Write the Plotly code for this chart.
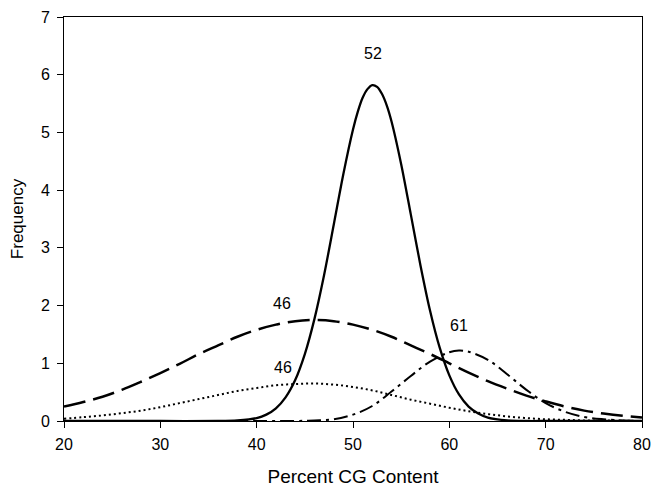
import plotly.graph_objects as go

# Solid curve (peak labelled 52)
x_52 = [20, 30, 36, 38, 40, 41, 42, 43, 44, 45, 46, 47, 48, 49, 50, 50.5, 51, 51.5, 52, 52.5, 53, 53.5, 54, 55,
        56, 57, 58, 59, 60, 61, 62, 63, 64, 66, 68, 70, 75, 80]
y_52 = [0.0, 0.0, 0.0, 0.01, 0.05, 0.11, 0.22, 0.41, 0.71, 1.16, 1.77, 2.53, 3.40, 4.28, 5.05, 5.36, 5.60, 5.75, 5.82, 5.79, 5.67, 5.47, 5.19, 4.45,
        3.58, 2.70, 1.91, 1.27, 0.79, 0.46, 0.25, 0.13, 0.06, 0.01, 0.0, 0.0, 0.0, 0.0]

# Long-dashed curve (peak labelled 46, upper)
x_46a = [20, 22, 24, 26, 28, 30, 32, 34, 36, 38, 40, 42, 44, 46, 48, 50, 52, 54, 56, 58,
         60, 62, 64, 66, 68, 70, 72, 74, 76, 78, 80]
y_46a = [0.25, 0.33, 0.42, 0.54, 0.68, 0.83, 0.99, 1.16, 1.31, 1.46, 1.58, 1.67, 1.73, 1.75, 1.73, 1.67, 1.58, 1.46, 1.31, 1.16,
         1.00, 0.84, 0.69, 0.56, 0.44, 0.34, 0.25, 0.18, 0.13, 0.09, 0.06]

# Dotted curve (peak labelled 46, lower)
x_46b = [20, 22, 24, 26, 28, 30, 32, 34, 36, 38, 40, 42, 44, 46, 48, 50, 52, 54, 56, 58,
         60, 62, 64, 66, 68, 70, 72, 74, 76, 78, 80]
y_46b = [0.04, 0.066, 0.096, 0.135, 0.18, 0.24, 0.31, 0.38, 0.45, 0.52, 0.57, 0.62, 0.64, 0.65, 0.63, 0.59, 0.53, 0.45, 0.37, 0.30,
         0.23, 0.17, 0.12, 0.08, 0.05, 0.03, 0.02, 0.01, 0.01, 0.005, 0.0]

# Dash-dot curve (peak labelled 61)
x_61 = [20, 30, 40, 44, 46, 48, 50, 52, 54, 56, 58, 60, 61, 62, 64, 66, 68, 70, 72, 74, 76, 78, 80]
y_61 = [0.0, 0.0, 0.0, 0.0, 0.01, 0.03, 0.11, 0.26, 0.51, 0.78, 1.03, 1.19, 1.22, 1.20, 1.06, 0.81, 0.54, 0.31, 0.16, 0.07, 0.03, 0.01, 0.0]

peak_labels = ["52", "46", "46", "61"]
label_x = [52.1, 42.6, 42.7, 61.0]
label_y = [6.36, 2.04, 0.92, 1.66]

x_ticks = [20, 30, 40, 50, 60, 70, 80]
y_ticks = [0, 1, 2, 3, 4, 5, 6, 7]

FONT = "Liberation Sans, Arial, Helvetica, sans-serif"

fig = go.Figure()
fig.add_trace(go.Scatter(x=x_46a, y=y_46a, mode="lines", line=dict(color="black", width=2.5, dash="22px,8px", shape="spline"), showlegend=False))
fig.add_trace(go.Scatter(x=x_46b, y=y_46b, mode="lines", line=dict(color="black", width=2, dash="2px,3px", shape="spline"), showlegend=False))
fig.add_trace(go.Scatter(x=x_61, y=y_61, mode="lines", line=dict(color="black", width=2, dash="14px,5px,3px,5px", shape="spline"), showlegend=False))
fig.add_trace(go.Scatter(x=x_52, y=y_52, mode="lines", line=dict(color="black", width=2.3, shape="spline", smoothing=0.8), showlegend=False))

for t, lx, ly in zip(peak_labels, label_x, label_y):
    fig.add_annotation(x=lx, y=ly, text=t, showarrow=False, font=dict(family=FONT, size=16, color="black"))

fig.update_xaxes(range=[20, 80], tickvals=x_ticks, showline=True, linecolor="black", linewidth=1, mirror=True,
                 ticks="outside", ticklen=6, tickcolor="black", showgrid=False, zeroline=False,
                 ticklabelstandoff=3,
                 tickfont=dict(family=FONT, size=16, color="black"),
                 title=dict(text="Percent CG Content", font=dict(family=FONT, size=19, color="black"), standoff=20))
fig.update_yaxes(range=[0, 7], tickvals=y_ticks, showline=True, linecolor="black", linewidth=1, mirror=True,
                 ticks="outside", ticklen=6, tickcolor="black", showgrid=False, zeroline=False,
                 ticklabelstandoff=4,
                 tickfont=dict(family=FONT, size=16, color="black"),
                 title=dict(text="Frequency", font=dict(family=FONT, size=17, color="black"), standoff=12))

fig.update_layout(width=652, height=487, margin=dict(l=64, r=10, t=17, b=66, autoexpand=False),
                  plot_bgcolor="white", paper_bgcolor="white")

fig.write_html("out.html")
